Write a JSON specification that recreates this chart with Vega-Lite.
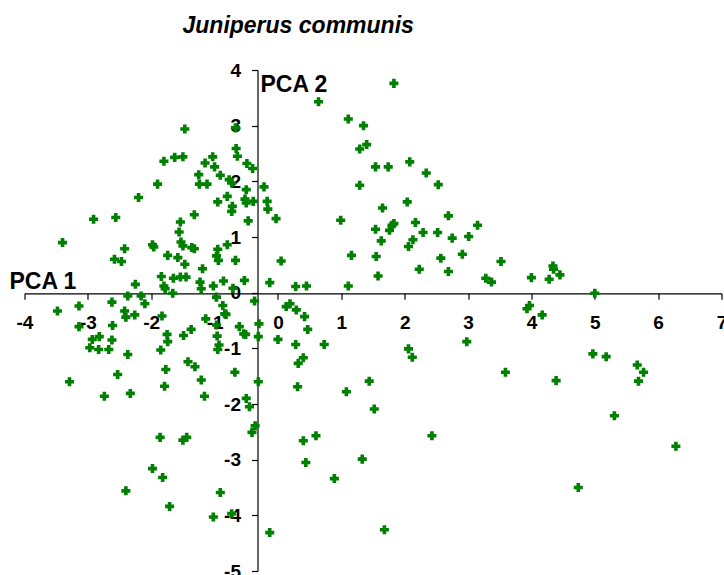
{
  "$schema": "https://vega.github.io/schema/vega-lite/v6.json",
  "width": 697,
  "height": 501,
  "autosize": {"type": "none"},
  "padding": {"left": 24.5, "top": 70, "right": 2.5, "bottom": 4},
  "background": "white",
  "config": {"view": {"stroke": null}},
  "title": {
    "text": "Juniperus communis",
    "font": "Liberation Sans",
    "fontSize": 23,
    "fontStyle": "italic",
    "fontWeight": "bold",
    "color": "black",
    "anchor": "start",
    "frame": "group",
    "baseline": "alphabetic",
    "dx": 158,
    "dy": 22,
    "offset": 27
  },
  "data": {
    "values": [
      {"pc1": 1.83, "pc2": 3.76}, {"pc1": 0.64, "pc2": 3.43}, {"pc1": 1.11, "pc2": 3.12}, {"pc1": 1.35, "pc2": 3.0},
      {"pc1": 1.4, "pc2": 2.66}, {"pc1": 1.29, "pc2": 2.58}, {"pc1": 1.54, "pc2": 2.26}, {"pc1": 1.74, "pc2": 2.26},
      {"pc1": 2.08, "pc2": 2.35}, {"pc1": 2.34, "pc2": 2.15}, {"pc1": 2.53, "pc2": 1.94}, {"pc1": 1.29, "pc2": 1.93},
      {"pc1": 2.04, "pc2": 1.63}, {"pc1": 1.65, "pc2": 1.52}, {"pc1": 2.69, "pc2": 1.38}, {"pc1": 2.17, "pc2": 1.26},
      {"pc1": 1.83, "pc2": 1.24}, {"pc1": 1.8, "pc2": 1.21}, {"pc1": 1.76, "pc2": 1.12}, {"pc1": 1.54, "pc2": 1.14},
      {"pc1": 0.99, "pc2": 1.3}, {"pc1": 3.15, "pc2": 1.21}, {"pc1": 2.29, "pc2": 1.08}, {"pc1": 2.52, "pc2": 1.08},
      {"pc1": 2.75, "pc2": 0.98}, {"pc1": 3.01, "pc2": 1.01}, {"pc1": 1.63, "pc2": 0.93}, {"pc1": 2.13, "pc2": 0.95},
      {"pc1": 2.06, "pc2": 0.83}, {"pc1": 1.16, "pc2": 0.67}, {"pc1": 1.55, "pc2": 0.65}, {"pc1": 2.57, "pc2": 0.62},
      {"pc1": 2.91, "pc2": 0.69}, {"pc1": 3.52, "pc2": 0.56}, {"pc1": 2.23, "pc2": 0.42}, {"pc1": 2.69, "pc2": 0.38},
      {"pc1": 1.58, "pc2": 0.3}, {"pc1": 3.28, "pc2": 0.26}, {"pc1": 3.37, "pc2": 0.19}, {"pc1": 1.11, "pc2": 0.12},
      {"pc1": 0.45, "pc2": 0.12}, {"pc1": 0.28, "pc2": 0.11}, {"pc1": 0.05, "pc2": 0.57}, {"pc1": -0.03, "pc2": 1.33},
      {"pc1": -0.13, "pc2": 0.18}, {"pc1": 4.0, "pc2": 0.27}, {"pc1": 4.34, "pc2": 0.48}, {"pc1": 4.35, "pc2": 0.42},
      {"pc1": 4.45, "pc2": 0.32}, {"pc1": 4.28, "pc2": 0.24}, {"pc1": 5.0, "pc2": -0.01}, {"pc1": 3.97, "pc2": -0.23},
      {"pc1": 3.93, "pc2": -0.29}, {"pc1": 4.17, "pc2": -0.4}, {"pc1": 3.59, "pc2": -1.43}, {"pc1": 4.97, "pc2": -1.1},
      {"pc1": 5.18, "pc2": -1.15}, {"pc1": 5.67, "pc2": -1.3}, {"pc1": 5.77, "pc2": -1.43}, {"pc1": 5.69, "pc2": -1.59},
      {"pc1": 4.39, "pc2": -1.58}, {"pc1": 5.31, "pc2": -2.21}, {"pc1": 6.28, "pc2": -2.76}, {"pc1": 4.74, "pc2": -3.5},
      {"pc1": -0.37, "pc2": -0.15}, {"pc1": 0.13, "pc2": -0.25}, {"pc1": 0.19, "pc2": -0.2}, {"pc1": 0.29, "pc2": -0.31},
      {"pc1": 0.42, "pc2": -0.43}, {"pc1": 0.47, "pc2": -0.66}, {"pc1": -0.61, "pc2": -0.61}, {"pc1": -0.54, "pc2": -0.74},
      {"pc1": -0.51, "pc2": -0.75}, {"pc1": -0.3, "pc2": -0.56}, {"pc1": -0.31, "pc2": -0.79}, {"pc1": 0.0, "pc2": -0.84},
      {"pc1": 0.28, "pc2": -0.93}, {"pc1": 0.73, "pc2": -0.93}, {"pc1": 0.4, "pc2": -1.17}, {"pc1": 0.32, "pc2": -1.27},
      {"pc1": -0.68, "pc2": -1.43}, {"pc1": -0.31, "pc2": -1.6}, {"pc1": 0.31, "pc2": -1.69}, {"pc1": 1.08, "pc2": -1.78},
      {"pc1": 1.44, "pc2": -1.59}, {"pc1": 1.52, "pc2": -2.09}, {"pc1": 2.06, "pc2": -1.01}, {"pc1": 2.12, "pc2": -1.16},
      {"pc1": 2.98, "pc2": -0.88}, {"pc1": -0.5, "pc2": -1.9}, {"pc1": -0.45, "pc2": -2.05}, {"pc1": -0.36, "pc2": -2.39},
      {"pc1": -0.41, "pc2": -2.51}, {"pc1": 0.4, "pc2": -2.66}, {"pc1": 0.6, "pc2": -2.57}, {"pc1": 0.44, "pc2": -3.05},
      {"pc1": 2.43, "pc2": -2.57}, {"pc1": 1.33, "pc2": -2.99}, {"pc1": 0.89, "pc2": -3.34}, {"pc1": -0.13, "pc2": -4.31},
      {"pc1": 1.68, "pc2": -4.26}, {"pc1": -0.73, "pc2": -3.97},
      {"pc1": -3.4, "pc2": 0.9}, {"pc1": -2.91, "pc2": 1.32}, {"pc1": -2.56, "pc2": 1.35}, {"pc1": -2.2, "pc2": 1.71},
      {"pc1": -1.9, "pc2": 1.95}, {"pc1": -1.8, "pc2": 2.36}, {"pc1": -1.63, "pc2": 2.43}, {"pc1": -1.5, "pc2": 2.44},
      {"pc1": -1.47, "pc2": 2.94}, {"pc1": -0.67, "pc2": 2.96}, {"pc1": -0.66, "pc2": 2.59}, {"pc1": -0.64, "pc2": 2.45},
      {"pc1": -1.15, "pc2": 2.33}, {"pc1": -1.03, "pc2": 2.44}, {"pc1": -1.0, "pc2": 2.26}, {"pc1": -1.25, "pc2": 2.12},
      {"pc1": -1.24, "pc2": 1.95}, {"pc1": -1.12, "pc2": 1.95}, {"pc1": -0.91, "pc2": 2.11}, {"pc1": -0.77, "pc2": 2.03},
      {"pc1": -0.73, "pc2": 1.97}, {"pc1": -0.49, "pc2": 2.32}, {"pc1": -0.4, "pc2": 2.23}, {"pc1": -0.5, "pc2": 1.85},
      {"pc1": -0.8, "pc2": 1.73}, {"pc1": -0.95, "pc2": 1.63}, {"pc1": -0.72, "pc2": 1.55}, {"pc1": -0.73, "pc2": 1.46},
      {"pc1": -0.52, "pc2": 1.68}, {"pc1": -0.5, "pc2": 1.61}, {"pc1": -0.39, "pc2": 1.64}, {"pc1": -0.47, "pc2": 1.29},
      {"pc1": -0.22, "pc2": 1.9}, {"pc1": -0.17, "pc2": 1.64}, {"pc1": -0.16, "pc2": 1.5}, {"pc1": -1.32, "pc2": 1.4},
      {"pc1": -1.54, "pc2": 1.27}, {"pc1": -1.56, "pc2": 1.09}, {"pc1": -1.53, "pc2": 0.91}, {"pc1": -1.5, "pc2": 0.84},
      {"pc1": -1.98, "pc2": 0.86}, {"pc1": -1.96, "pc2": 0.82}, {"pc1": -2.42, "pc2": 0.79}, {"pc1": -2.58, "pc2": 0.6},
      {"pc1": -2.47, "pc2": 0.56}, {"pc1": -1.74, "pc2": 0.67}, {"pc1": -1.58, "pc2": 0.63}, {"pc1": -1.47, "pc2": 0.51},
      {"pc1": -1.36, "pc2": 0.81}, {"pc1": -1.32, "pc2": 0.79}, {"pc1": -1.19, "pc2": 0.43}, {"pc1": -0.95, "pc2": 0.78},
      {"pc1": -0.97, "pc2": 0.66}, {"pc1": -0.94, "pc2": 0.58}, {"pc1": -0.8, "pc2": 0.86}, {"pc1": -0.67, "pc2": 0.58},
      {"pc1": -1.84, "pc2": 0.29}, {"pc1": -1.8, "pc2": 0.12}, {"pc1": -1.78, "pc2": 0.07}, {"pc1": -1.66, "pc2": -0.01},
      {"pc1": -1.65, "pc2": 0.26}, {"pc1": -1.54, "pc2": 0.28}, {"pc1": -1.45, "pc2": 0.28}, {"pc1": -1.23, "pc2": 0.19},
      {"pc1": -1.21, "pc2": 0.07}, {"pc1": -1.02, "pc2": 0.12}, {"pc1": -0.86, "pc2": 0.21}, {"pc1": -0.53, "pc2": 0.22},
      {"pc1": -2.25, "pc2": 0.15}, {"pc1": -0.71, "pc2": 0.08},
      {"pc1": -3.48, "pc2": -0.33}, {"pc1": -3.14, "pc2": -0.24}, {"pc1": -3.14, "pc2": -0.61}, {"pc1": -2.62, "pc2": -0.17},
      {"pc1": -2.61, "pc2": -0.59}, {"pc1": -2.37, "pc2": -0.06}, {"pc1": -2.42, "pc2": -0.33}, {"pc1": -2.4, "pc2": -0.44},
      {"pc1": -2.26, "pc2": -0.4}, {"pc1": -2.16, "pc2": -0.06}, {"pc1": -2.1, "pc2": -0.2}, {"pc1": -1.83, "pc2": -0.42},
      {"pc1": -2.93, "pc2": -0.84}, {"pc1": -2.82, "pc2": -0.79}, {"pc1": -2.97, "pc2": -0.99}, {"pc1": -2.83, "pc2": -1.02},
      {"pc1": -2.67, "pc2": -1.02}, {"pc1": -2.62, "pc2": -0.85}, {"pc1": -2.37, "pc2": -1.11}, {"pc1": -2.53, "pc2": -1.47},
      {"pc1": -3.29, "pc2": -1.6}, {"pc1": -2.74, "pc2": -1.86}, {"pc1": -2.33, "pc2": -1.81}, {"pc1": -1.85, "pc2": -1.03},
      {"pc1": -1.75, "pc2": -0.75}, {"pc1": -1.74, "pc2": -0.88}, {"pc1": -1.49, "pc2": -0.77}, {"pc1": -1.37, "pc2": -0.66},
      {"pc1": -1.77, "pc2": -1.38}, {"pc1": -1.79, "pc2": -1.68}, {"pc1": -1.42, "pc2": -1.24}, {"pc1": -1.31, "pc2": -1.33},
      {"pc1": -1.21, "pc2": -1.57}, {"pc1": -1.16, "pc2": -1.86}, {"pc1": -1.14, "pc2": -0.47}, {"pc1": -0.97, "pc2": -0.08},
      {"pc1": -0.97, "pc2": -0.58}, {"pc1": -0.96, "pc2": -0.78}, {"pc1": -0.93, "pc2": -0.94}, {"pc1": -0.95, "pc2": -1.02},
      {"pc1": -0.87, "pc2": -0.23}, {"pc1": -0.84, "pc2": -0.38}, {"pc1": -0.82, "pc2": -0.39}, {"pc1": -1.86, "pc2": -2.6},
      {"pc1": -1.5, "pc2": -2.65}, {"pc1": -1.44, "pc2": -2.6}, {"pc1": -1.98, "pc2": -3.16}, {"pc1": -1.82, "pc2": -3.32},
      {"pc1": -2.4, "pc2": -3.56}, {"pc1": -1.71, "pc2": -3.84}, {"pc1": -0.91, "pc2": -3.59}, {"pc1": -1.02, "pc2": -4.03}
    ]
  },
  "mark": {"type": "point", "shape": "cross", "filled": true, "color": "#008000", "opacity": 1, "size": 82},
  "encoding": {
    "x": {
      "field": "pc1",
      "type": "quantitative",
      "scale": {"domain": [-4, 7], "nice": false, "zero": false},
      "axis": {
        "orient": "bottom",
        "offset": -277.7,
        "values": [-4, -3, -2, -1, 0, 1, 2, 3, 4, 5, 6, 7],
        "labelExpr": "'' + datum.value",
        "grid": false,
        "domainColor": "black",
        "domainWidth": 1.2,
        "tickColor": "black",
        "tickWidth": 1.2,
        "tickSize": 6,
        "labelFont": "Liberation Sans",
        "labelFontSize": 19,
        "labelFontWeight": "bold",
        "labelColor": "black",
        "labelPadding": 14,
        "labelFlush": false,
        "labelOverlap": false,
        "title": "PCA 1",
        "titleFont": "Liberation Sans",
        "titleFontSize": 23,
        "titleFontWeight": "bold",
        "titleColor": "black",
        "titleX": -15.5,
        "titleY": -5,
        "titleAlign": "left",
        "titleAnchor": null,
        "titleBaseline": "alphabetic",
        "titleAngle": 0
      }
    },
    "y": {
      "field": "pc2",
      "type": "quantitative",
      "scale": {"domain": [-5, 4], "nice": false, "zero": false},
      "axis": {
        "orient": "left",
        "offset": -233,
        "values": [-5, -4, -3, -2, -1, 0, 1, 2, 3, 4],
        "labelExpr": "'' + datum.value",
        "grid": false,
        "domainColor": "black",
        "domainWidth": 1.2,
        "tickColor": "black",
        "tickWidth": 1.2,
        "tickSize": 6,
        "labelFont": "Liberation Sans",
        "labelFontSize": 19,
        "labelFontWeight": "bold",
        "labelColor": "black",
        "labelPadding": 11,
        "labelFlush": false,
        "labelOverlap": false,
        "title": "PCA 2",
        "titleFont": "Liberation Sans",
        "titleFontSize": 23,
        "titleFontWeight": "bold",
        "titleColor": "black",
        "titleX": 2.5,
        "titleY": 21.7,
        "titleAlign": "left",
        "titleAnchor": null,
        "titleBaseline": "alphabetic",
        "titleAngle": 0
      }
    }
  }
}
